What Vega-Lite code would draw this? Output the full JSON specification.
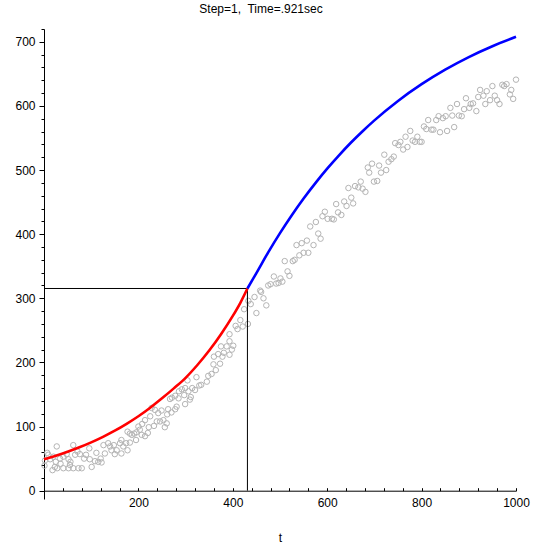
{
  "$schema": "https://vega.github.io/schema/vega-lite/v6.json",
  "width": 472,
  "height": 470,
  "autosize": {"type": "none"},
  "padding": {"left": 44, "top": 29, "right": 32, "bottom": 49},
  "background": "white",
  "title": {
    "text": "Step=1,\u00a0 Time=.921sec",
    "font": "Liberation Sans",
    "fontSize": 12,
    "fontWeight": "normal",
    "color": "black",
    "anchor": "middle",
    "frame": "group",
    "offset": 7,
    "dx": -19
  },
  "config": {
    "view": {"stroke": null},
    "axis": {
      "domainColor": "black",
      "domainWidth": 1,
      "tickColor": "black",
      "tickWidth": 1,
      "labelColor": "black",
      "labelFont": "Liberation Sans",
      "labelFontSize": 12,
      "titleFont": "Liberation Sans",
      "titleFontSize": 12,
      "titleFontWeight": "normal",
      "titleColor": "black",
      "grid": false
    }
  },
  "datasets": {
    "pts": [
      {"t":1,"v":39},{"t":2,"v":47},{"t":9,"v":56},{"t":13,"v":49},{"t":20,"v":53},{"t":25,"v":45},{"t":7,"v":59},{"t":18,"v":32},{"t":23,"v":37},{"t":28,"v":35},
      {"t":35,"v":42},{"t":41,"v":35},{"t":34,"v":50},{"t":41,"v":53},{"t":48,"v":57},{"t":52,"v":49},{"t":56,"v":45},{"t":62,"v":71},{"t":66,"v":56},{"t":71,"v":61},
      {"t":76,"v":57},{"t":80,"v":35},{"t":73,"v":35},{"t":62,"v":35},{"t":52,"v":35},{"t":55,"v":40},{"t":85,"v":50},{"t":89,"v":56},{"t":96,"v":66},{"t":97,"v":49},
      {"t":101,"v":37},{"t":108,"v":46},{"t":111,"v":59},{"t":115,"v":45},{"t":122,"v":44},{"t":120,"v":50},{"t":129,"v":58},{"t":126,"v":71},{"t":136,"v":74},{"t":140,"v":69},
      {"t":143,"v":63},{"t":148,"v":71},{"t":150,"v":57},{"t":154,"v":63},{"t":161,"v":74},{"t":164,"v":79},{"t":164,"v":58},{"t":168,"v":69},{"t":174,"v":74},{"t":177,"v":63},
      {"t":182,"v":75},{"t":186,"v":87},{"t":191,"v":89},{"t":195,"v":79},{"t":182,"v":89},{"t":177,"v":92},{"t":27,"v":69},
      {"t":323,"v":177},{"t":329,"v":164},{"t":320,"v":157},{"t":304,"v":172},{"t":314,"v":160},{"t":306,"v":155},{"t":299,"v":160},{"t":292,"v":158},{"t":286,"v":155},{"t":278,"v":148},
      {"t":285,"v":144},{"t":271,"v":145},{"t":267,"v":143},{"t":297,"v":149},{"t":311,"v":146},{"t":299,"v":135},{"t":309,"v":142},{"t":281,"v":131},{"t":278,"v":127},{"t":263,"v":127},
      {"t":270,"v":122},{"t":261,"v":119},{"t":249,"v":125},{"t":242,"v":121},{"t":235,"v":126},{"t":228,"v":129},{"t":225,"v":116},{"t":253,"v":110},{"t":260,"v":105},{"t":256,"v":99},
      {"t":246,"v":108},{"t":239,"v":108},{"t":233,"v":101},{"t":214,"v":110},{"t":208,"v":104},{"t":222,"v":99},{"t":220,"v":90},{"t":214,"v":85},{"t":203,"v":95},{"t":200,"v":100},
      {"t":196,"v":91},{"t":207,"v":87},
      {"t":333,"v":165},{"t":345,"v":170},{"t":348,"v":179},{"t":355,"v":182},{"t":364,"v":188},{"t":359,"v":197},{"t":373,"v":198},{"t":378,"v":209},{"t":360,"v":209},{"t":369,"v":213},
      {"t":381,"v":215},{"t":393,"v":212},{"t":398,"v":220},{"t":401,"v":226},{"t":375,"v":225},{"t":387,"v":225},{"t":393,"v":233},{"t":393,"v":244},{"t":406,"v":257},{"t":410,"v":252},
      {"t":421,"v":256},{"t":416,"v":266},{"t":432,"v":260},{"t":424,"v":283},{"t":433,"v":296},{"t":438,"v":291},{"t":446,"v":302},{"t":450,"v":277},{"t":458,"v":312},{"t":460,"v":310},
      {"t":465,"v":300},{"t":471,"v":289},{"t":475,"v":320},{"t":480,"v":322},{"t":487,"v":334},{"t":492,"v":323},{"t":497,"v":324},{"t":501,"v":331},{"t":505,"v":326},{"t":516,"v":342},
      {"t":520,"v":335},{"t":510,"v":358},{"t":527,"v":358},{"t":531,"v":360},{"t":541,"v":367},{"t":550,"v":371},{"t":560,"v":371},{"t":535,"v":383},{"t":546,"v":386},{"t":557,"v":390},
      {"t":571,"v":383},{"t":581,"v":401},{"t":586,"v":393},{"t":564,"v":412},{"t":576,"v":419},{"t":590,"v":428},{"t":595,"v":435},{"t":601,"v":424},{"t":610,"v":424},{"t":614,"v":423},
      {"t":623,"v":434},{"t":619,"v":447},
      {"t":630,"v":430},{"t":636,"v":451},{"t":641,"v":444},{"t":655,"v":448},{"t":651,"v":457},{"t":645,"v":472},{"t":659,"v":475},{"t":666,"v":473},{"t":671,"v":482},{"t":675,"v":471},
      {"t":681,"v":466},{"t":699,"v":482},{"t":706,"v":483},{"t":686,"v":504},{"t":689,"v":496},{"t":695,"v":510},{"t":710,"v":507},{"t":714,"v":496},{"t":721,"v":524},{"t":725,"v":500},
      {"t":730,"v":513},{"t":736,"v":517},{"t":741,"v":521},{"t":744,"v":542},{"t":751,"v":539},{"t":755,"v":544},{"t":761,"v":532},{"t":766,"v":552},{"t":770,"v":536},{"t":776,"v":561},
      {"t":781,"v":546},{"t":786,"v":544},{"t":791,"v":552},{"t":796,"v":544},{"t":800,"v":544},{"t":805,"v":568},{"t":810,"v":564},{"t":814,"v":578},{"t":821,"v":563},{"t":825,"v":563},
      {"t":831,"v":578},{"t":836,"v":584},{"t":839,"v":559},{"t":845,"v":581},{"t":851,"v":584},{"t":854,"v":561},{"t":861,"v":597},{"t":865,"v":585},{"t":869,"v":567},{"t":875,"v":603},
      {"t":879,"v":585},{"t":885,"v":584},{"t":890,"v":595},{"t":894,"v":612},{"t":901,"v":597},{"t":904,"v":603},{"t":909,"v":604},{"t":916,"v":592},{"t":920,"v":614},{"t":924,"v":625},
      {"t":931,"v":616},{"t":935,"v":603},{"t":938,"v":623},{"t":945,"v":609},{"t":950,"v":631},{"t":955,"v":616},{"t":960,"v":609},{"t":965,"v":603},{"t":971,"v":633},{"t":975,"v":631},
      {"t":980,"v":634},{"t":987,"v":618},{"t":990,"v":625},{"t":994,"v":611},{"t":1000,"v":641}
    ],
    "red": [
      {"t":0,"v":49},{"t":25,"v":54.6},{"t":50,"v":60.8},{"t":75,"v":67.7},{"t":100,"v":75.4},{"t":125,"v":84},{"t":150,"v":93.6},{"t":175,"v":104.3},{"t":200,"v":116.1},{"t":225,"v":129.4},
      {"t":250,"v":144},{"t":275,"v":159.5},{"t":300,"v":176},{"t":325,"v":196},{"t":350,"v":218.5},{"t":375,"v":244},{"t":400,"v":272.5},{"t":416,"v":293},{"t":431,"v":315.3}
    ],
    "blue": [
      {"t":431,"v":315.3},{"t":450,"v":339.4},{"t":475,"v":371.7},{"t":500,"v":401.7},{"t":525,"v":429.6},{"t":550,"v":455.6},{"t":575,"v":479.7},{"t":600,"v":502.2},{"t":625,"v":523},{"t":650,"v":542.6},
      {"t":675,"v":560.6},{"t":700,"v":577.5},{"t":750,"v":607.8},{"t":800,"v":633.9},{"t":850,"v":656.6},{"t":900,"v":676.2},{"t":950,"v":693.1},{"t":1000,"v":707.8}
    ],
    "guide": [
      {"t":0,"v":315.3,"t2":431,"v2":315.3},
      {"t":431,"v":0,"t2":431,"v2":315.3}
    ]
  },
  "layer": [
    {
      "data": {"name": "pts"},
      "mark": {"type": "point", "shape": "circle", "filled": false, "color": "#b4b4b4", "size": 30, "strokeWidth": 1, "opacity": 1},
      "encoding": {
        "x": {
          "field": "t", "type": "quantitative", "title": "t",
          "scale": {"domain": [0, 1000], "nice": false, "zero": false},
          "axis": {
            "values": [0,40,80,120,160,200,240,280,320,360,400,440,480,520,560,600,640,680,720,760,800,840,880,920,960,1000],
            "tickCount": 200,
            "format": "d",
            "labelExpr": "datum.value % 200 === 0 && datum.value > 0 ? datum.label : ''",
            "tickSize": -3,
            "labelPadding": 10,
            "offset": -8.3,
            "titlePadding": 24,
            "labelFlush": false,
            "labelOverlap": false
          }
        },
        "y": {
          "field": "v", "type": "quantitative", "title": null,
          "scale": {"domain": [-13, 720], "nice": false, "zero": false},
          "axis": {
            "values": [0,20,40,60,80,100,120,140,160,180,200,220,240,260,280,300,320,340,360,380,400,420,440,460,480,500,520,540,560,580,600,620,640,660,680,700,720],
            "tickCount": 200,
            "format": "d",
            "labelExpr": "datum.value % 100 === 0 ? datum.label : ''",
            "tickSize": {"condition": {"test": "datum.value % 100 === 0", "value": 5}, "value": 3},
            "labelPadding": 4,
            "labelFlush": false,
            "labelOverlap": false
          }
        }
      }
    },
    {
      "data": {"name": "guide"},
      "mark": {"type": "rule", "color": "black", "strokeWidth": 1},
      "encoding": {
        "x": {"field": "t", "type": "quantitative", "title": "t"},
        "y": {"field": "v", "type": "quantitative", "title": null},
        "x2": {"field": "t2"},
        "y2": {"field": "v2"}
      }
    },
    {
      "data": {"name": "red"},
      "mark": {"type": "line", "color": "#ff0000", "strokeWidth": 2.6, "interpolate": "monotone"},
      "encoding": {
        "x": {"field": "t", "type": "quantitative", "title": "t"},
        "y": {"field": "v", "type": "quantitative", "title": null}
      }
    },
    {
      "data": {"name": "blue"},
      "mark": {"type": "line", "color": "#0000ff", "strokeWidth": 2.6, "interpolate": "monotone"},
      "encoding": {
        "x": {"field": "t", "type": "quantitative", "title": "t"},
        "y": {"field": "v", "type": "quantitative", "title": null}
      }
    }
  ]
}
